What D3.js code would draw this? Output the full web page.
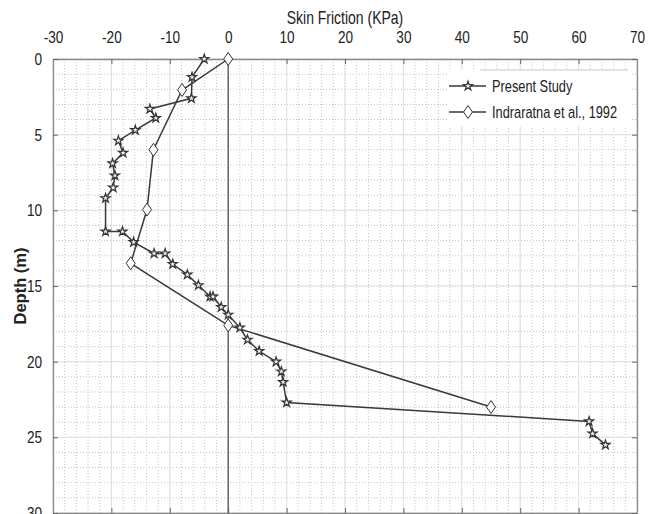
<!DOCTYPE html>
<html>
<head>
<meta charset="utf-8">
<script src="https://cdn.jsdelivr.net/npm/d3@7"></script>
<style>
  body { margin: 0; background: #fff; }
  svg { display: block; font-family: 'Liberation Sans', Arial, sans-serif; }
</style>
</head>
<body>
<svg id="chart" width="660" height="514"></svg>
<script>
// skin friction (kPa) vs depth (m)
const presentFriction = [-4.1, -6.2, -6.3, -13.4, -12.4, -15.9, -18.8, -18.0, -19.8, -19.4, -19.7, -21.0,
  -21.0, -18.1, -16.2, -12.7, -10.8, -9.5, -7.0, -5.1, -3.1, -2.6, -1.2, 0.0, 2.0, 3.3, 5.3,
  8.2, 9.1, 9.4, 10.0, 61.8, 62.4, 64.6];
const presentDepth = [0, 1.2, 2.6, 3.3, 3.9, 4.7, 5.4, 6.2, 6.9, 7.7, 8.5, 9.2,
  11.4, 11.4, 12.1, 12.85, 12.85, 13.55, 14.25, 14.95, 15.7, 15.7, 16.4, 16.9, 17.75, 18.55, 19.3,
  20.0, 20.65, 21.35, 22.7, 23.95, 24.75, 25.5];
const indraFriction = [0, -7.9, -12.8, -13.9, -16.7, 0, 45];
const indraDepth = [0, 2.05, 6.0, 9.95, 13.5, 17.6, 23.0];
const xTicks = [-30, -20, -10, 0, 10, 20, 30, 40, 50, 60, 70];
const yTicks = [0, 5, 10, 15, 20, 25, 30];
const seriesNames = ['Present Study', 'Indraratna et al., 1992'];

const margin = { top: 59, right: 23, bottom: 1, left: 53 };
const W = 660, H = 514;
const width = W - margin.left - margin.right,
  height = H - margin.top - margin.bottom;
const squeeze = 'scale(0.8,1)';

const root = d3.select('#chart');
const svg = root.append('g').attr('transform', `translate(${ margin.left }, ${ margin.top })`);

const x = d3.scaleLinear().domain([-30, 70]).range([0, width]);
const y = d3.scaleLinear().domain([0, 30]).range([0, height]);

// GRID
const grid = svg.append('g');
grid.selectAll('.minor-x').data(d3.range(-30, 71, 2)).enter().append('line')
  .attr('x1', d => x(d)).attr('x2', d => x(d)).attr('y1', 0).attr('y2', height)
  .attr('stroke', '#c4c4c4').attr('stroke-dasharray', '1,2');
grid.selectAll('.minor-y').data(d3.range(0, 31, 1)).enter().append('line')
  .attr('y1', d => y(d)).attr('y2', d => y(d)).attr('x1', 0).attr('x2', width)
  .attr('stroke', '#c4c4c4').attr('stroke-dasharray', '1,2');
grid.selectAll('.major-x').data(xTicks).enter().append('line')
  .attr('x1', d => x(d)).attr('x2', d => x(d)).attr('y1', 0).attr('y2', height)
  .attr('stroke', '#e0e0e0');
grid.selectAll('.major-y').data(yTicks).enter().append('line')
  .attr('y1', d => y(d)).attr('y2', d => y(d)).attr('x1', 0).attr('x2', width)
  .attr('stroke', '#e0e0e0');

// AXES (ticks pointing inwards, box all round)
function squeezeLabels(g) {
  g.selectAll('text').each(function () {
    const t = d3.select(this);
    const tx = +t.attr('x') || 0, ty = +t.attr('y') || 0;
    t.attr('x', null).attr('y', null).attr('transform', `translate(${ tx },${ ty }) ${ squeeze }`);
  });
}
function styleAxis(g) {
  g.select('.domain').attr('stroke', '#8a8a8a').attr('stroke-width', 1.3);
  g.selectAll('.tick line').attr('stroke', '#666');
  g.selectAll('text').attr('fill', '#222').style('font-size', '17px');
}
const plain = d => String(d);

svg.append('g')
  .call(d3.axisTop(x).tickValues(xTicks).tickSizeInner(-5).tickSizeOuter(0).tickPadding(16).tickFormat(plain))
  .call(styleAxis).call(squeezeLabels);
svg.append('g').attr('transform', `translate(0, ${ height })`)
  .call(d3.axisBottom(x).tickValues(xTicks).tickSizeInner(-5).tickSizeOuter(0).tickFormat(''))
  .call(styleAxis);
svg.append('g')
  .call(d3.axisLeft(y).tickValues(yTicks).tickSizeInner(-5).tickSizeOuter(0).tickPadding(11).tickFormat(plain))
  .call(styleAxis).call(squeezeLabels);
svg.append('g').attr('transform', `translate(${ width }, 0)`)
  .call(d3.axisRight(y).tickValues(yTicks).tickSizeInner(-5).tickSizeOuter(0).tickFormat(''))
  .call(styleAxis);

// AXIS TITLES
root.append('text').attr('transform', `translate(${ margin.left + width / 2 }, 24) ${ squeeze }`)
  .attr('text-anchor', 'middle').style('font-size', '17.5px').attr('fill', '#222')
  .text('Skin Friction (KPa)');
root.append('text').attr('transform', `translate(26, ${ margin.top + y(15) }) rotate(-90)`)
  .attr('text-anchor', 'middle').style('font-size', '16.5px').style('font-weight', 'bold').attr('fill', '#222')
  .text('Depth (m)');

// ZERO LINE
svg.append('line').attr('x1', x(0)).attr('x2', x(0)).attr('y1', 0).attr('y2', height)
  .attr('stroke', '#555').attr('stroke-width', 1.3);

// MARKERS
const star = d3.symbol().type(d3.symbolStar).size(26);
const diamond = 'M0,-6.5L4.5,0L0,6.5L-4.5,0Z';

const present = presentFriction.map((v, i) => ({ v, d: presentDepth[i] }));
const indra = indraFriction.map((v, i) => ({ v, d: indraDepth[i] }));
const line = d3.line().x(p => x(p.v)).y(p => y(p.d));

svg.append('path').attr('d', line(indra)).attr('fill', 'none').attr('stroke', '#3a3a3a').attr('stroke-width', 1.5);
svg.append('path').attr('d', line(present)).attr('fill', 'none').attr('stroke', '#3a3a3a').attr('stroke-width', 1.5);

svg.selectAll('.indra').data(indra).enter().append('path')
  .attr('d', diamond).attr('transform', p => `translate(${ x(p.v) }, ${ y(p.d) })`)
  .attr('fill', '#fff').attr('stroke', '#333').attr('stroke-width', 1);
svg.selectAll('.present').data(present).enter().append('path')
  .attr('d', star).attr('transform', p => `translate(${ x(p.v) }, ${ y(p.d) })`)
  .attr('fill', '#eee').attr('stroke', '#333').attr('stroke-width', 1.2);

// LEGEND
const legend = root.append('g').attr('transform', 'translate(448, 70)');
legend.append('rect').attr('width', 182).attr('height', 56).attr('fill', '#fff');
legend.append('line').attr('x1', 32).attr('x2', 180).attr('y1', 0).attr('y2', 0).attr('stroke', '#c8c8c8');
seriesNames.forEach((name, i) => {
  const ly = 16 + i * 26;
  const item = legend.append('g').attr('transform', `translate(0, ${ ly })`);
  item.append('line').attr('x1', 1).attr('x2', 38).attr('stroke', '#3a3a3a').attr('stroke-width', 1.5);
  item.append('path').attr('d', i === 0 ? star() : diamond).attr('transform', 'translate(20, 0)')
    .attr('fill', i === 0 ? '#eee' : '#fff').attr('stroke', '#333').attr('stroke-width', i === 0 ? 1.2 : 1);
  item.append('text').attr('transform', `translate(44, 0) ${ squeeze }`).attr('dy', '0.35em')
    .style('font-size', '16px').attr('fill', '#222').text(name);
});
</script>
</body>
</html>
